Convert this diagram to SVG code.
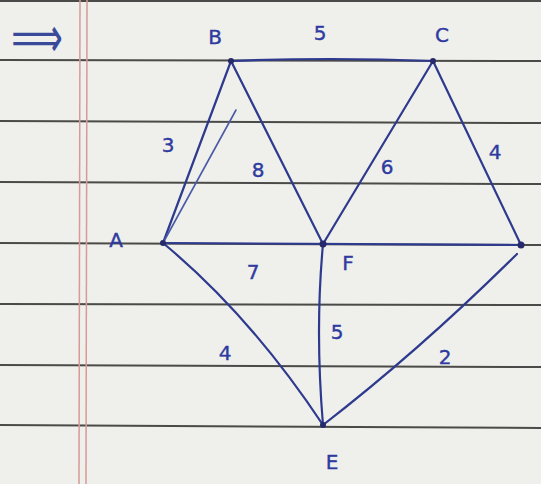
<svg xmlns="http://www.w3.org/2000/svg" width="541" height="484" viewBox="0 0 541 484">
<style>
.rule{stroke:#4a4a48;stroke-width:2;fill:none}
.margin{stroke:#d89a98;stroke-width:1.5;fill:none}
.edge{stroke:#2e3a8e;stroke-width:2.2;fill:none;stroke-linecap:round}
.faint{stroke:#4a5aa8;stroke-width:1.6;fill:none;stroke-linecap:round}
.dot{fill:#262a6a}
.lbl{font-family:"DejaVu Sans",sans-serif;font-size:20px;fill:#2e3aa0;stroke:#2e3aa0;stroke-width:0.4;text-anchor:middle;dominant-baseline:central}
</style>
<rect width="541" height="484" fill="#efefeb"/>
<g id="paper">
<line class="rule" x1="0" y1="1" x2="541" y2="1"/>
<line class="rule" x1="0" y1="60" x2="541" y2="61"/>
<line class="rule" x1="0" y1="121" x2="541" y2="123"/>
<line class="rule" x1="0" y1="182" x2="541" y2="184"/>
<line class="rule" x1="0" y1="243" x2="541" y2="245"/>
<line class="rule" x1="0" y1="304" x2="541" y2="305"/>
<line class="rule" x1="0" y1="365" x2="541" y2="367"/>
<line class="rule" x1="0" y1="425" x2="541" y2="428"/>
<line class="margin" x1="80" y1="0" x2="79" y2="484"/>
<line class="margin" x1="87" y1="0" x2="86" y2="484"/>
<text transform="translate(37,37) scale(1,1.6)" x="0" y="0" style="font-family:'DejaVu Sans',sans-serif;font-size:36px;fill:#3a4a9a;text-anchor:middle;dominant-baseline:central">⟹</text>
</g>
<g id="connectors">
<path class="edge" d="M231 61 Q330 57 433 61"/>
<path class="edge" d="M231 61 L163 243"/>
<path class="faint" d="M236 110 L163 243"/>
<path class="edge" d="M231 61 L323 244"/>
<path class="edge" d="M433 61 L323 244"/>
<path class="edge" d="M433 61 L521 245"/>
<path class="edge" d="M163 243 L521 245"/>
<path class="edge" d="M163 243 Q250 315 323 425"/>
<path class="edge" d="M323 244 Q315 330 323 425"/>
<path class="edge" d="M323 425 Q420 350 517 254"/>
</g>
<g id="node-A"><circle class="dot" cx="163" cy="243" r="3"/><text class="lbl" x="116" y="240">A</text></g>
<g id="node-B"><circle class="dot" cx="231" cy="61" r="3"/><text class="lbl" x="215" y="37">B</text></g>
<g id="node-C"><circle class="dot" cx="433" cy="61" r="3"/><text class="lbl" x="442" y="35">C</text></g>
<g id="node-D"><circle class="dot" cx="521" cy="245" r="3.5"/></g>
<g id="node-E"><circle class="dot" cx="323" cy="425" r="3"/><text class="lbl" x="332" y="462">E</text></g>
<g id="node-F"><circle class="dot" cx="323" cy="244" r="3.5"/><text class="lbl" x="348" y="263">F</text></g>
<g id="edge-labels">
<text class="lbl" x="320" y="33">5</text>
<text class="lbl" x="168" y="145">3</text>
<text class="lbl" x="258" y="170">8</text>
<text class="lbl" x="387" y="167">6</text>
<text class="lbl" x="495" y="152">4</text>
<text class="lbl" x="253" y="272">7</text>
<text class="lbl" x="337" y="332">5</text>
<text class="lbl" x="225" y="353">4</text>
<text class="lbl" x="445" y="357">2</text>
</g>
</svg>
